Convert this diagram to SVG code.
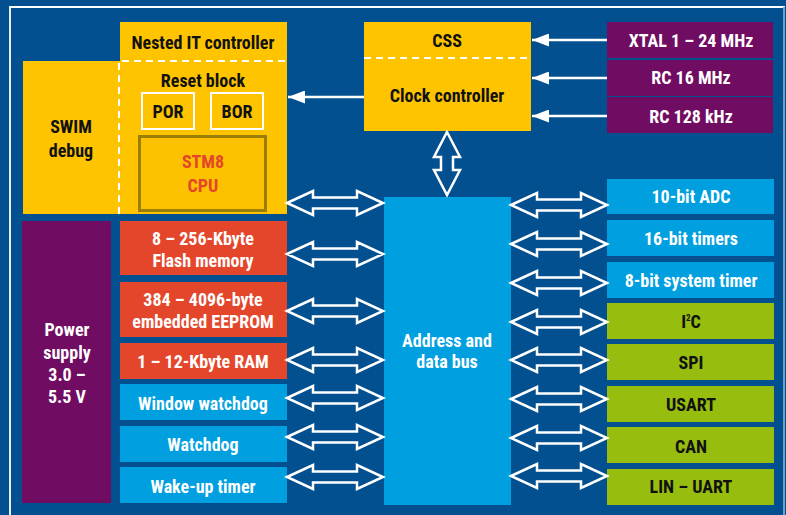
<svg xmlns="http://www.w3.org/2000/svg" xmlns:xlink="http://www.w3.org/1999/xlink" width="786" height="515" viewBox="0 0 786 515">
<style>
text{font-family:"Liberation Sans Narrow","Roboto Condensed","Liberation Sans",Arial,sans-serif;font-size:18px;font-weight:bold;text-anchor:middle}
.dk{fill:#111111}
.wt{fill:#ffffff}
.yel{fill:#fec400}
.red{fill:#e4462b}
.pur{fill:#700c62}
.lb{fill:#009fe0}
.grn{fill:#97bd0e}
.dash{stroke:#ffffff;stroke-width:2;stroke-dasharray:7 5;fill:none}
.arr{fill:none;stroke:#ffffff;stroke-width:2.5;stroke-linejoin:miter}
.ln{stroke:#ffffff;stroke-width:2.5}
</style>
<defs>
<path id="dbl" class="arr" d="M-48,0 L-22,-12 L-22,-5.5 L22,-5.5 L22,-12 L48,0 L22,12 L22,5.5 L-22,5.5 L-22,12 Z"/>
<marker id="ah" markerWidth="17" markerHeight="13" refX="17" refY="6.5" orient="auto" markerUnits="userSpaceOnUse">
<path d="M0,0 L17,6.5 L0,13 Z" fill="#ffffff"/>
</marker>
</defs>
<rect x="0" y="0" width="786" height="515" fill="#02508f"/>
<path d="M10,515 L10,7 L784,7 L784,515" fill="none" stroke="#ffffff" stroke-width="1.8"/>
<path d="M784,7 L784,515" fill="none" stroke="#4f86b5" stroke-width="1.5"/>

<g id="nested-it">
<rect class="yel" x="120" y="22" width="167" height="192"/>
<text class="dk" x="203" y="49">Nested IT controller</text>
</g>
<g id="swim">
<rect class="yel" x="23" y="61" width="97" height="153"/>
<text class="dk" x="71" y="133">SWIM</text>
<text class="dk" x="71" y="157">debug</text>
</g>
<g id="reset-block">
<path class="dash" d="M119,214 L119,61 L287,61"/>
<text class="dk" x="203" y="87">Reset block</text>
</g>
<g id="por">
<rect x="142" y="93" width="52" height="36" fill="none" stroke="#ffffff" stroke-width="2"/>
<text class="dk" x="168" y="118">POR</text>
</g>
<g id="bor">
<rect x="211" y="93" width="52" height="36" fill="none" stroke="#ffffff" stroke-width="2"/>
<text class="dk" x="237" y="118">BOR</text>
</g>
<g id="cpu">
<rect x="139.5" y="136.5" width="126" height="74" fill="#fcc200" stroke="#9a7e0a" stroke-width="3"/>
<text x="203" y="168" fill="#e4462b" font-size="19">STM8</text>
<text x="203" y="192" fill="#e4462b" font-size="19">CPU</text>
</g>

<g id="clock">
<rect class="yel" x="364" y="22" width="167" height="109"/>
<path class="dash" d="M364,58 L531,58"/>
<text class="dk" x="447" y="47">CSS</text>
<text class="dk" x="447" y="102">Clock controller</text>
</g>
<g id="xtal">
<rect class="pur" x="607" y="22" width="166" height="36"/>
<text class="wt" x="691" y="47">XTAL 1 – 24 MHz</text>
</g>
<g id="rc16">
<rect class="pur" x="607" y="60" width="166" height="36"/>
<text class="wt" x="691" y="84">RC 16 MHz</text>
</g>
<g id="rc128">
<rect class="pur" x="607" y="97" width="166" height="36"/>
<text class="wt" x="691" y="123">RC 128 kHz</text>
</g>

<g id="power">
<rect class="pur" x="22" y="221" width="89" height="282"/>
<text class="wt" x="67" y="336">Power</text>
<text class="wt" x="67" y="359">supply</text>
<text class="wt" x="67" y="381">3.0 –</text>
<text class="wt" x="67" y="403">5.5 V</text>
</g>
<g id="flash">
<rect class="red" x="120" y="221" width="167" height="54"/>
<text class="wt" x="203" y="245">8 – 256-Kbyte</text>
<text class="wt" x="203" y="267">Flash memory</text>
</g>
<g id="eeprom">
<rect class="red" x="120" y="282" width="167" height="55"/>
<text class="wt" x="203" y="306">384 – 4096-byte</text>
<text class="wt" x="203" y="328">embedded EEPROM</text>
</g>
<g id="ram">
<rect class="red" x="120" y="343" width="167" height="36"/>
<text class="wt" x="203" y="368">1 – 12-Kbyte RAM</text>
</g>
<g id="wwdg">
<rect class="lb" x="120" y="384" width="167" height="36"/>
<text class="wt" x="203" y="410">Window watchdog</text>
</g>
<g id="wdg">
<rect class="lb" x="120" y="426" width="167" height="36"/>
<text class="wt" x="203" y="451">Watchdog</text>
</g>
<g id="wakeup">
<rect class="lb" x="120" y="467" width="167" height="36"/>
<text class="wt" x="203" y="493">Wake-up timer</text>
</g>

<g id="bus">
<rect class="lb" x="384" y="197" width="127" height="308"/>
<text class="wt" x="447" y="347">Address and</text>
<text class="wt" x="447" y="368">data bus</text>
</g>

<g id="adc">
<rect class="lb" x="607" y="179" width="167" height="35"/>
<text class="wt" x="691" y="203">10-bit ADC</text>
</g>
<g id="tim16">
<rect class="lb" x="607" y="220" width="167" height="36"/>
<text class="wt" x="691" y="245">16-bit timers</text>
</g>
<g id="tim8">
<rect class="lb" x="607" y="262" width="167" height="36"/>
<text class="wt" x="691" y="287">8-bit system timer</text>
</g>
<g id="i2c">
<rect class="grn" x="607" y="303" width="167" height="36"/>
<text class="dk" x="691" y="328">I<tspan font-size="9" dy="-7">2</tspan><tspan dy="7">C</tspan></text>
</g>
<g id="spi">
<rect class="grn" x="607" y="344" width="167" height="36"/>
<text class="dk" x="691" y="369">SPI</text>
</g>
<g id="usart">
<rect class="grn" x="607" y="386" width="167" height="36"/>
<text class="dk" x="691" y="411">USART</text>
</g>
<g id="can">
<rect class="grn" x="607" y="427" width="167" height="36"/>
<text class="dk" x="691" y="453">CAN</text>
</g>
<g id="lin">
<rect class="grn" x="607" y="469" width="167" height="36"/>
<text class="dk" x="691" y="493">LIN – UART</text>
</g>

<g id="connectors">
<line class="ln" x1="607" y1="40" x2="532" y2="40" marker-end="url(#ah)"/>
<line class="ln" x1="607" y1="78" x2="532" y2="78" marker-end="url(#ah)"/>
<line class="ln" x1="607" y1="116" x2="532" y2="116" marker-end="url(#ah)"/>
<line class="ln" x1="364" y1="97" x2="288" y2="97" marker-end="url(#ah)"/>
<path class="arr" d="M447,132 L460,157 L453,157 L453,170 L460,170 L447,195 L434,170 L441,170 L441,157 L434,157 Z"/>
<use xlink:href="#dbl" x="335" y="203"/>
<use xlink:href="#dbl" x="335" y="254"/>
<use xlink:href="#dbl" x="335" y="311"/>
<use xlink:href="#dbl" x="335" y="360"/>
<use xlink:href="#dbl" x="335" y="398"/>
<use xlink:href="#dbl" x="335" y="437"/>
<use xlink:href="#dbl" x="335" y="477"/>
<use xlink:href="#dbl" x="559" y="205"/>
<use xlink:href="#dbl" x="559" y="244"/>
<use xlink:href="#dbl" x="559" y="283"/>
<use xlink:href="#dbl" x="559" y="322"/>
<use xlink:href="#dbl" x="559" y="360"/>
<use xlink:href="#dbl" x="559" y="399"/>
<use xlink:href="#dbl" x="559" y="438"/>
<use xlink:href="#dbl" x="559" y="476"/>
</g>
</svg>
